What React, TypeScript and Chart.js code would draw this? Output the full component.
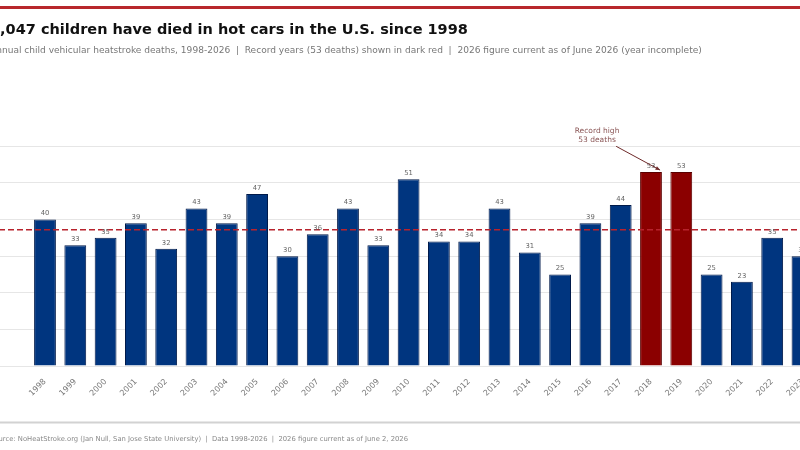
import React, { useEffect, useRef } from 'react';
import { Chart, registerables } from 'chart.js';

Chart.register(...registerables);

const YEARS = [1998, 1999, 2000, 2001, 2002, 2003, 2004, 2005, 2006, 2007, 2008, 2009, 2010, 2011, 2012, 2013, 2014, 2015, 2016, 2017, 2018, 2019, 2020, 2021, 2022, 2023, 2024, 2025, 2026];
const DEATHS = [40, 33, 35, 39, 32, 43, 39, 47, 30, 36, 43, 33, 51, 34, 34, 43, 31, 25, 39, 44, 53, 53, 25, 23, 35, 30, 39, 36, 2];
const RECORD_YEARS = [2018, 2019];
const AVERAGE = 37.2;
const Y_GRID = [0, 10, 20, 30, 40, 50, 60];
const TITLE = '1,047 children have died in hot cars in the U.S. since 1998';
const SUBTITLE = 'Annual child vehicular heatstroke deaths, 1998-2026  |  Record years (53 deaths) shown in dark red  |  2026 figure current as of June 2026 (year incomplete)';
const FOOTER = 'Source: NoHeatStroke.org (Jan Null, San Jose State University)  |  Data 1998-2026  |  2026 figure current as of June 2, 2026';
const ANNOTATION = ['Record high', '53 deaths'];
const ANN_TEXT_AT = { x: 2016.22, y: 62.9 };
const ANN_ARROW_FROM = { x: 2016.85, y: 60 };
const ANN_ARROW_TO = { x: 2018.3, y: 53.5 };

const FONT = '"DejaVu Sans", sans-serif';
const NAVY = '#00357f';
const NAVY_EDGE = '#001a4a';
const DARKRED = '#8b0000';
const DARKRED_EDGE = '#5a0000';
const CANVAS_W = 950;
const CANVAS_H = 450;
const X_MIN = 1996.185;
const X_MAX = X_MIN + CANVAS_W / 30.3;

const decor = {
  id: 'decor',
  beforeDraw(chart: any) {
    const ctx = chart.ctx;
    ctx.save();
    ctx.fillStyle = '#ffffff';
    ctx.fillRect(0, 0, chart.width, chart.height);
    ctx.fillStyle = '#b8272c';
    ctx.fillRect(0, 6, chart.width, 3);
    ctx.fillStyle = '#d2d2d2';
    ctx.fillRect(0, 421.5, chart.width, 2);
    ctx.textAlign = 'left';
    ctx.textBaseline = 'alphabetic';
    ctx.fillStyle = '#111111';
    ctx.font = `bold 14.5px ${FONT}`;
    ctx.fillText(TITLE, 0, 33.5);
    ctx.fillStyle = '#777777';
    ctx.font = `9.05px ${FONT}`;
    ctx.fillText(SUBTITLE, 0, 52.5);
    ctx.fillStyle = '#888888';
    ctx.font = `6.8px ${FONT}`;
    ctx.fillText(FOOTER, 0, 441);
    ctx.restore();
  },
  afterDatasetsDraw(chart: any) {
    const ctx = chart.ctx;
    const xs = chart.scales.x;
    const ys = chart.scales.y;
    const area = chart.chartArea;
    ctx.save();
    const ay = ys.getPixelForValue(AVERAGE);
    ctx.strokeStyle = '#b8232d';
    ctx.lineWidth = 1.5;
    ctx.setLineDash([6, 3]);
    ctx.beginPath();
    ctx.moveTo(area.left, ay);
    ctx.lineTo(area.right, ay);
    ctx.stroke();
    ctx.setLineDash([]);
    const meta = chart.getDatasetMeta(0);
    ctx.font = `6.8px ${FONT}`;
    ctx.fillStyle = '#666666';
    ctx.textAlign = 'center';
    ctx.textBaseline = 'middle';
    meta.data.forEach((el: any, i: number) => {
      ctx.fillText(String(DEATHS[i]), el.x, el.y - 6);
    });
    ctx.fillStyle = '#8a5555';
    ctx.font = `7.5px ${FONT}`;
    const tx = xs.getPixelForValue(ANN_TEXT_AT.x);
    const ty = ys.getPixelForValue(ANN_TEXT_AT.y);
    ctx.fillText(ANNOTATION[0], tx, ty - 4.5);
    ctx.fillText(ANNOTATION[1], tx, ty + 4.5);
    const x1 = xs.getPixelForValue(ANN_ARROW_FROM.x);
    const y1 = ys.getPixelForValue(ANN_ARROW_FROM.y);
    const x2 = xs.getPixelForValue(ANN_ARROW_TO.x);
    const y2 = ys.getPixelForValue(ANN_ARROW_TO.y);
    ctx.strokeStyle = '#6e2a2a';
    ctx.fillStyle = '#6e2a2a';
    ctx.lineWidth = 1;
    ctx.beginPath();
    ctx.moveTo(x1, y1);
    ctx.lineTo(x2, y2);
    ctx.stroke();
    const ang = Math.atan2(y2 - y1, x2 - x1);
    ctx.beginPath();
    ctx.moveTo(x2, y2);
    ctx.lineTo(x2 - 5 * Math.cos(ang - 0.4), y2 - 5 * Math.sin(ang - 0.4));
    ctx.lineTo(x2 - 5 * Math.cos(ang + 0.4), y2 - 5 * Math.sin(ang + 0.4));
    ctx.closePath();
    ctx.fill();
    ctx.restore();
  },
};

export default function App() {
  const ref = useRef<HTMLCanvasElement | null>(null);
  useEffect(() => {
    if (!ref.current) return;
    const isRecord = YEARS.map((y) => RECORD_YEARS.includes(y));
    const chart = new Chart(ref.current, {
      type: 'bar',
      data: {
        datasets: [
          {
            data: YEARS.map((y, i) => ({ x: y, y: DEATHS[i] })) as any,
            backgroundColor: isRecord.map((r) => (r ? DARKRED : NAVY)),
            borderColor: isRecord.map((r) => (r ? DARKRED_EDGE : NAVY_EDGE)),
            borderWidth: 1,
            barPercentage: 0.9,
            categoryPercentage: 0.8,
          },
        ],
      },
      options: {
        animation: false,
        responsive: false,
        devicePixelRatio: 1,
        layout: { padding: { top: 128, bottom: 54, left: 0, right: 0 } },
        plugins: { legend: { display: false }, tooltip: { enabled: false }, title: { display: false } },
        scales: {
          x: {
            type: 'linear',
            min: X_MIN,
            max: X_MAX,
            offset: false,
            grid: { display: false },
            border: { display: false },
            afterBuildTicks: (s: any) => {
              s.ticks = YEARS.map((v) => ({ value: v }));
            },
            afterFit: (s: any) => {
              s.height = 30;
            },
            ticks: {
              autoSkip: false,
              minRotation: 45,
              maxRotation: 45,
              padding: 3,
              color: '#777777',
              font: { family: FONT, size: 8 },
              callback: (v: any) => String(v),
            },
          },
          y: {
            min: 0,
            max: 65,
            afterBuildTicks: (s: any) => {
              s.ticks = Y_GRID.map((v) => ({ value: v }));
            },
            afterFit: (s: any) => {
              s.width = 0;
            },
            ticks: { display: false },
            grid: { color: '#e6e6e6', drawTicks: false, lineWidth: 1 },
            border: { display: false },
          },
        },
      },
      plugins: [decor],
    });
    return () => chart.destroy();
  }, []);
  return (
    <div style={{ position: 'fixed', left: 0, top: 0, width: 800, height: 450, overflow: 'hidden', background: '#fff' }}>
      <canvas ref={ref} width={CANVAS_W} height={CANVAS_H} style={{ position: 'absolute', left: -10, top: 0, width: CANVAS_W, height: CANVAS_H }} />
    </div>
  );
}
